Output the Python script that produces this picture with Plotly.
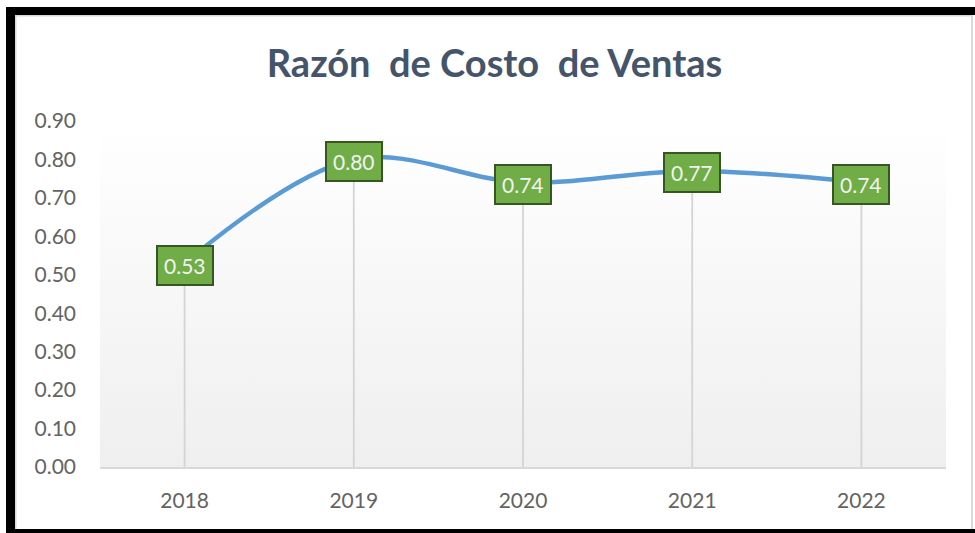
import plotly.graph_objects as go

years = ["2018", "2019", "2020", "2021", "2022"]
ratios = [0.53, 0.80, 0.74, 0.77, 0.74]
y_ticks = [0.0, 0.1, 0.2, 0.3, 0.4, 0.5, 0.6, 0.7, 0.8, 0.9]
title_text = "Razón\u00a0 de Costo\u00a0 de Ventas"

W, H = 975, 533
L, R, T, B = 100, 29, 121, 66
PW, PH = W - L - R, H - T - B

xs = list(range(len(years)))
x_rng = [-0.5, len(years) - 0.5]
y_rng = [y_ticks[0], y_ticks[-1]]


def px_x(p):
    return (p - L) / PW


def px_y(p):
    return (H - B - p) / PH


fig = go.Figure()

# gradient plot-area background
fig.add_trace(go.Scatter(
    x=[x_rng[0], x_rng[1], x_rng[1], x_rng[0], x_rng[0]],
    y=[y_rng[0], y_rng[0], y_rng[1], y_rng[1], y_rng[0]],
    mode="lines", line=dict(width=0), fill="toself",
    fillgradient=dict(type="vertical",
                      colorscale=[[0, "#EFEFEF"], [1, "#FFFFFF"]]),
    hoverinfo="skip", showlegend=False,
))

# drop lines
fig.add_trace(go.Scatter(
    x=xs, y=ratios, mode="markers", marker=dict(opacity=0),
    error_y=dict(type="data", symmetric=False, array=[0] * len(ratios),
                 arrayminus=ratios, color="#D4D4D4", thickness=1.8, width=0),
    hoverinfo="skip", showlegend=False,
))

# smooth line
fig.add_trace(go.Scatter(
    x=xs, y=ratios, mode="lines",
    line=dict(color="#5B9BD5", width=4.5, shape="spline", smoothing=1.0),
    showlegend=False,
))

for x, v in zip(xs, ratios):
    fig.add_annotation(
        x=x, y=v, text=f"{v:.2f}", showarrow=False, yshift=-2,
        font=dict(family="Lato, Calibri, sans-serif", size=21, color="#F2F2F2"),
        bgcolor="#70AD47", bordercolor="#375623", borderwidth=2, borderpad=6,
    )


def rect(x0, y0, x1, y1, color):
    return dict(type="rect", xref="paper", yref="paper", layer="above",
                x0=px_x(x0), x1=px_x(x1), y0=px_y(y1), y1=px_y(y0),
                fillcolor=color, line=dict(width=0))


shapes = [
    rect(15, 15, 973, 16.5, "#D9D9D9"),
    rect(15, 15, 16.5, 529, "#D9D9D9"),
    rect(971, 15, 973, 529, "#D9D9D9"),
    rect(6, 7, 15, 533, "#000000"),
    rect(6, 7, 975, 15, "#000000"),
    rect(6, 529, 975, 533, "#000000"),
]

fig.update_layout(
    width=W, height=H,
    margin=dict(l=L, r=R, t=T, b=B),
    paper_bgcolor="#FFFFFF", plot_bgcolor="rgba(0,0,0,0)",
    showlegend=False,
    shapes=shapes,
    title=dict(text=f"<b>{title_text}</b>", x=px_x(494.5), xref="paper",
               xanchor="center", y=1 - 64 / H, yref="container",
               yanchor="middle",
               font=dict(family="Lato, Calibri, sans-serif", size=38,
                         color="#44546A")),
    xaxis=dict(range=x_rng, tickvals=xs, ticktext=years, showgrid=False,
               zeroline=False, showline=True, linecolor="#D9D9D9",
               linewidth=1.5, ticks="", ticklabelstandoff=14,
               tickfont=dict(family="Lato, Calibri, sans-serif", size=21,
                             color="#636363")),
    yaxis=dict(range=y_rng, tickvals=y_ticks,
               ticktext=[f"{t:.2f}" for t in y_ticks], showgrid=False,
               zeroline=False, showline=False, ticks="",
               ticklabelstandoff=23,
               tickfont=dict(family="Lato, Calibri, sans-serif", size=21,
                             color="#636363")),
)

fig.write_html("out.html",
               config={"displayModeBar": False},
               post_script="document.body.style.margin='0';"
                           "document.body.style.overflow='hidden';")
